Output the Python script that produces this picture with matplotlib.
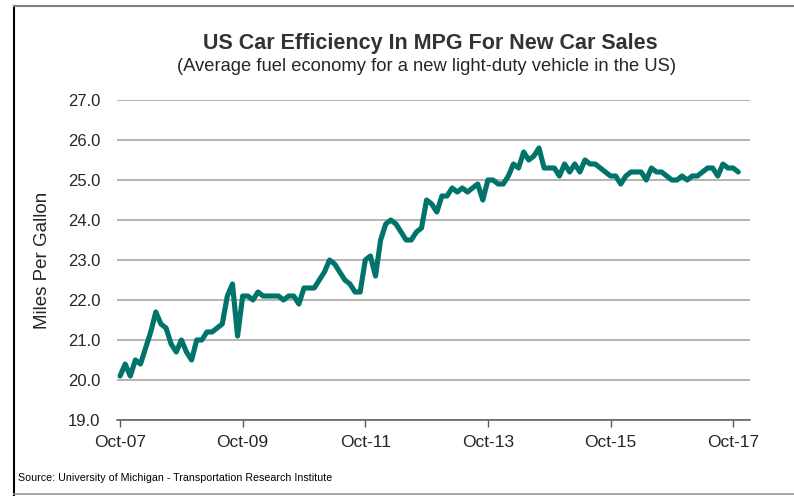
import matplotlib
matplotlib.use("Agg")
import matplotlib.pyplot as plt
from matplotlib import font_manager
from matplotlib.lines import Line2D

names = {f.name for f in font_manager.fontManager.ttflist}
BASE = "Liberation Sans" if "Liberation Sans" in names else "DejaVu Sans"
NARROW = "Liberation Sans Narrow" if "Liberation Sans Narrow" in names else BASE
plt.rcParams['font.family'] = [BASE, 'DejaVu Sans']

# Monthly average MPG, Oct-07 .. Nov-17
mpg = [
    20.1, 20.4, 20.1, 20.5, 20.4, 20.8, 21.2, 21.7, 21.4, 21.3, 20.9, 20.7,
    21.0, 20.7, 20.5, 21.0, 21.0, 21.2, 21.2, 21.3, 21.4, 22.1, 22.4, 21.1,
    22.1, 22.1, 22.0, 22.2, 22.1, 22.1, 22.1, 22.1, 22.0, 22.1, 22.1, 21.9,
    22.3, 22.3, 22.3, 22.5, 22.7, 23.0, 22.9, 22.7, 22.5, 22.4, 22.2, 22.2,
    23.0, 23.1, 22.6, 23.5, 23.9, 24.0, 23.9, 23.7, 23.5, 23.5, 23.7, 23.8,
    24.5, 24.4, 24.2, 24.6, 24.6, 24.8, 24.7, 24.8, 24.7, 24.8, 24.9, 24.5,
    25.0, 25.0, 24.9, 24.9, 25.1, 25.4, 25.3, 25.7, 25.5, 25.6, 25.8, 25.3,
    25.3, 25.3, 25.1, 25.4, 25.2, 25.4, 25.2, 25.5, 25.4, 25.4, 25.3, 25.2,
    25.1, 25.1, 24.9, 25.1, 25.2, 25.2, 25.2, 25.0, 25.3, 25.2, 25.2, 25.1,
    25.0, 25.0, 25.1, 25.0, 25.1, 25.1, 25.2, 25.3, 25.3, 25.1, 25.4, 25.3,
    25.3, 25.2,
]
months = list(range(len(mpg)))
tick_months = [0, 24, 48, 72, 96, 120]
tick_labels = ["Oct-07", "Oct-09", "Oct-11", "Oct-13", "Oct-15", "Oct-17"]
y_ticks = [19, 20, 21, 22, 23, 24, 25, 26, 27]

title = "US Car Efficiency In MPG For New Car Sales"
subtitle = "(Average fuel economy for a new light-duty vehicle in the US)"
ylabel = "Miles Per Gallon"
source = "Source: University of Michigan - Transportation Research Institute"

W, H = 794, 496
fig = plt.figure(figsize=(W / 100, H / 100), dpi=100)
ax = fig.add_axes([117 / W, (H - 420) / H, (750 - 117) / W, 320 / H])

ax.plot(months, mpg, color="#00736A", lw=3.7, solid_joinstyle="round",
        solid_capstyle="round", zorder=3)

ax.set_xlim(-0.6, 123.3)
ax.set_ylim(19, 27)
ax.set_yticks(y_ticks)
ax.set_yticklabels([f"{v:.1f}" for v in y_ticks], fontsize=12, color="#262626")
ax.set_xticks(tick_months)
ax.set_xticklabels(tick_labels, fontsize=12.5, color="#262626")
ax.tick_params(axis="y", length=0, pad=12)
ax.tick_params(axis="x", length=5, width=1, color="#595959", direction="out", pad=6)
ax.grid(axis="y", color="#A39E99", lw=1.1, zorder=1)
for s in ["top", "right", "left"]:
    ax.spines[s].set_visible(False)
ax.spines["bottom"].set_color("#595959")
ax.spines["bottom"].set_linewidth(1.1)
ax.spines["bottom"].set_zorder(2)
ax.set_ylabel(ylabel, fontsize=13.5, color="#262626", labelpad=12)

fig.text(430 / W, 1 - 43 / H, title, ha="center", va="center", fontsize=15.5,
         fontweight="bold", color="#333333", family=[NARROW, BASE])
fig.text(427 / W, 1 - 67 / H, subtitle, ha="center", va="center", fontsize=13.2,
         color="#262626", family=[NARROW, BASE])
fig.text(18 / W, 1 - 478 / H, source, ha="left", va="center", fontsize=7.7,
         color="#000000", family=[NARROW, BASE])

# outer frame
fig.add_artist(Line2D([14 / W, 14 / W], [0, 1 - 6 / H], transform=fig.transFigure,
                      color="#000000", lw=1.5))
fig.add_artist(Line2D([14 / W, 1], [1 - 6 / H, 1 - 6 / H], transform=fig.transFigure,
                      color="#7F7F7F", lw=1.5))
fig.add_artist(Line2D([14 / W, 1], [1 - 494 / H, 1 - 494 / H], transform=fig.transFigure,
                      color="#9A9A9A", lw=1.2))

fig.savefig("out.png", dpi=100)
